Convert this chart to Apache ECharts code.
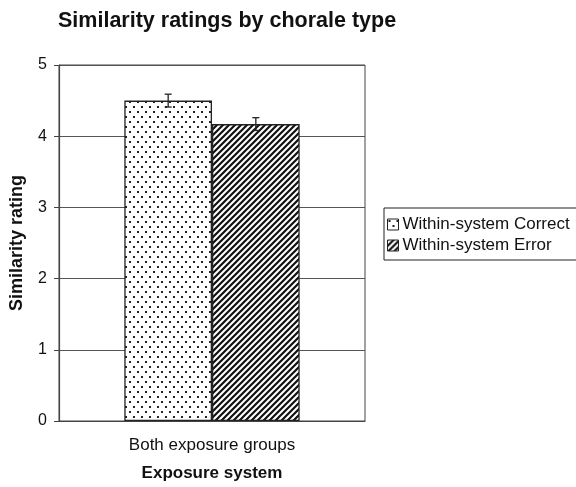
<!DOCTYPE html>
<html>
<head>
<meta charset="utf-8">
<script src="https://cdn.jsdelivr.net/npm/echarts@6/dist/echarts.min.js"></script>
<style>
  html, body { margin: 0; padding: 0; background: #fff; }
  #chart { width: 576px; height: 487px; }
</style>
</head>
<body>
<div id="chart"></div>
<script>
const categories = ['Both exposure groups']
const seriesNames = ['Within-system Correct', 'Within-system Error']
const correctValues = [4.50]
const errorValues = [4.17]
const correctErr = [0.09]
const errorErr = [0.09]
const yTicks = [0, 1, 2, 3, 4, 5]

const FONT = '"Liberation Sans", Arial, sans-serif'
const CAT_GAP = 0.427

function dotPattern() {
  const c = document.createElement('canvas')
  c.width = 8
  c.height = 10
  const ctx = c.getContext('2d')
  ctx.fillStyle = '#fff'
  ctx.fillRect(0, 0, 8, 10)
  ctx.fillStyle = '#222'
  ctx.fillRect(1, 1, 2, 2)
  ctx.fillRect(5, 6, 2, 2)
  return c
}

function hatchPattern() {
  const s = 6
  const c = document.createElement('canvas')
  c.width = s
  c.height = s
  const ctx = c.getContext('2d')
  ctx.fillStyle = '#fff'
  ctx.fillRect(0, 0, s, s)
  ctx.strokeStyle = '#111'
  ctx.lineWidth = 2.2
  ctx.beginPath()
  for (let k = -1; k <= 1; k++) {
    ctx.moveTo(k * s - 1, s + 1)
    ctx.lineTo(k * s + s + 1, -1)
  }
  ctx.stroke()
  return c
}

const dots = { image: dotPattern(), repeat: 'repeat' }
const hatch = { image: hatchPattern(), repeat: 'repeat' }

// error bar drawn over the middle of each bar
function errorBars(vals, errs, side) {
  return {
    type: 'custom',
    silent: true,
    z: 5,
    data: vals.map((v, i) => [i, v, errs[i]]),
    renderItem(params, api) {
      const catW = api.size([1, 0])[0]
      const barW = catW * (1 - CAT_GAP) / 2
      const c = api.coord([api.value(0), api.value(1)])
      const x = c[0] + side * barW / 2
      const top = api.coord([api.value(0), api.value(1) + api.value(2)])[1]
      const bot = api.coord([api.value(0), api.value(1) - api.value(2)])[1]
      const w = 3.5
      const st = { stroke: '#222', lineWidth: 1.3 }
      return {
        type: 'group',
        children: [
          { type: 'line', shape: { x1: x, y1: top, x2: x, y2: bot }, style: st },
          { type: 'line', shape: { x1: x - w, y1: top, x2: x + w, y2: top }, style: st },
          { type: 'line', shape: { x1: x - w, y1: bot, x2: x + w, y2: bot }, style: st }
        ]
      }
    }
  }
}

const chart = echarts.init(document.getElementById('chart'), null, { renderer: 'canvas' })

chart.setOption({
  animation: false,
  backgroundColor: '#fff',
  title: {
    text: 'Similarity ratings by chorale type',
    left: 53,
    top: 5,
    textStyle: { fontFamily: FONT, fontSize: 21.5, fontWeight: 'bold', color: '#111' }
  },
  legend: {
    data: seriesNames,
    orient: 'vertical',
    left: 384,
    top: 208,
    padding: [8, 8, 6, 3],
    itemGap: 4,
    itemWidth: 11,
    itemHeight: 11,
    borderColor: '#222',
    borderWidth: 1,
    icon: 'rect',
    itemStyle: { borderColor: '#222', borderWidth: 1 },
    textStyle: { fontFamily: FONT, fontSize: 17, color: '#111', padding: [0, 0, 0, -1] }
  },
  grid: {
    left: 58,
    right: 211,
    top: 65,
    bottom: 64,
    show: true,
    borderColor: '#444',
    borderWidth: 1,
    backgroundColor: 'transparent'
  },
  xAxis: {
    type: 'category',
    data: categories,
    name: 'Exposure system',
    nameLocation: 'middle',
    nameGap: 44,
    nameTextStyle: { fontFamily: FONT, fontSize: 17, fontWeight: 'bold', color: '#111' },
    axisLine: { lineStyle: { color: '#444', width: 1.2 } },
    axisTick: { show: false },
    axisLabel: { fontFamily: FONT, fontSize: 17, color: '#111', margin: 16 }
  },
  yAxis: {
    type: 'value',
    min: yTicks[0],
    max: yTicks[yTicks.length - 1],
    interval: 1,
    name: 'Similarity rating',
    nameLocation: 'middle',
    nameGap: 33,
    nameTextStyle: { fontFamily: FONT, fontSize: 18, fontWeight: 'bold', color: '#111' },
    axisLine: { show: true, lineStyle: { color: '#444', width: 1.2 } },
    axisTick: { show: true, inside: false, length: 5, lineStyle: { color: '#444' } },
    axisLabel: { fontFamily: FONT, fontSize: 16, color: '#111', margin: 12 },
    splitLine: { show: true, lineStyle: { color: '#555', width: 1 } }
  },
  series: [
    {
      name: seriesNames[0],
      type: 'bar',
      data: correctValues,
      barGap: '0%',
      barCategoryGap: (CAT_GAP * 100) + '%',
      itemStyle: { color: dots, borderColor: '#222', borderWidth: 1.3 }
    },
    {
      name: seriesNames[1],
      type: 'bar',
      data: errorValues,
      itemStyle: { color: hatch, borderColor: '#222', borderWidth: 1.3 }
    },
    errorBars(correctValues, correctErr, -1),
    errorBars(errorValues, errorErr, 1)
  ]
})
</script>
</body>
</html>
